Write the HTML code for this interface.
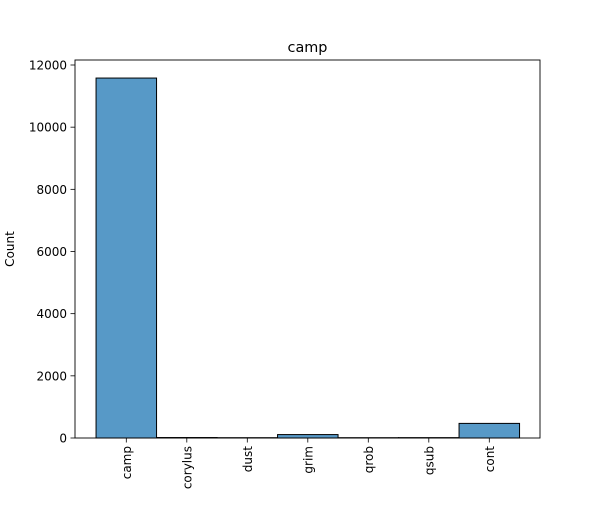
<!DOCTYPE html>
<html><head><meta charset="utf-8"><style>
body{margin:0;background:#fff;font-family:"Liberation Sans","DejaVu Sans",sans-serif}
</style></head><body>
<svg id="chart" width="600" height="500" xmlns="http://www.w3.org/2000/svg" style="font-family:'DejaVu Sans','Liberation Sans',sans-serif">
<text x="307.5" y="52" text-anchor="middle" font-size="14.4">camp</text>
<text transform="translate(14,249) rotate(-90)" text-anchor="middle" font-size="12">Count</text>
<g id="bars"></g><g id="yticks"></g><g id="xticks"></g>
<rect x="75" y="60" width="465" height="378" fill="none" stroke="#000" stroke-width="0.9"/>
</svg>
<script>
const categories=["camp","corylus","dust","grim","qrob","qsub","cont"];
const counts=[11580,15,10,110,10,12,470];
const yTickValues=[0,2000,4000,6000,8000,10000,12000];
const NS="http://www.w3.org/2000/svg";
const y=v=>438-v*(373/12000);
const x=i=>126.3+60.5*i;
const bw=60.5;
function mk(t,a,p){const e=document.createElementNS(NS,t);for(const k in a)e.setAttribute(k,a[k]);p.appendChild(e);return e;}
const bars=document.getElementById('bars'),yt=document.getElementById('yticks'),xt=document.getElementById('xticks');
counts.forEach((v,i)=>{
 const r=mk('rect',{x:x(i)-bw/2,y:y(v),width:bw,height:438-y(v),fill:'#5799c7',stroke:'#000','stroke-width':1},bars);
 
 
 const l=mk('line',{x1:x(i),x2:x(i),y1:438,y2:442.5,stroke:'#000','stroke-width':0.8},xt);
 
 
 const t=mk('text',{transform:`translate(${x(i)+4.5},446) rotate(-90)`,'text-anchor':'end','font-size':12},xt);
 t.textContent=categories[i];
 
 
});
yTickValues.forEach(v=>{
 const l=mk('line',{x1:70.5,x2:75,y1:y(v),y2:y(v),stroke:'#000','stroke-width':0.8},yt);
 
 
 const t=mk('text',{x:67,y:y(v)+4.5,'text-anchor':'end','font-size':12},yt);
 t.textContent=v;
 
 
});
</script>
</body></html>
